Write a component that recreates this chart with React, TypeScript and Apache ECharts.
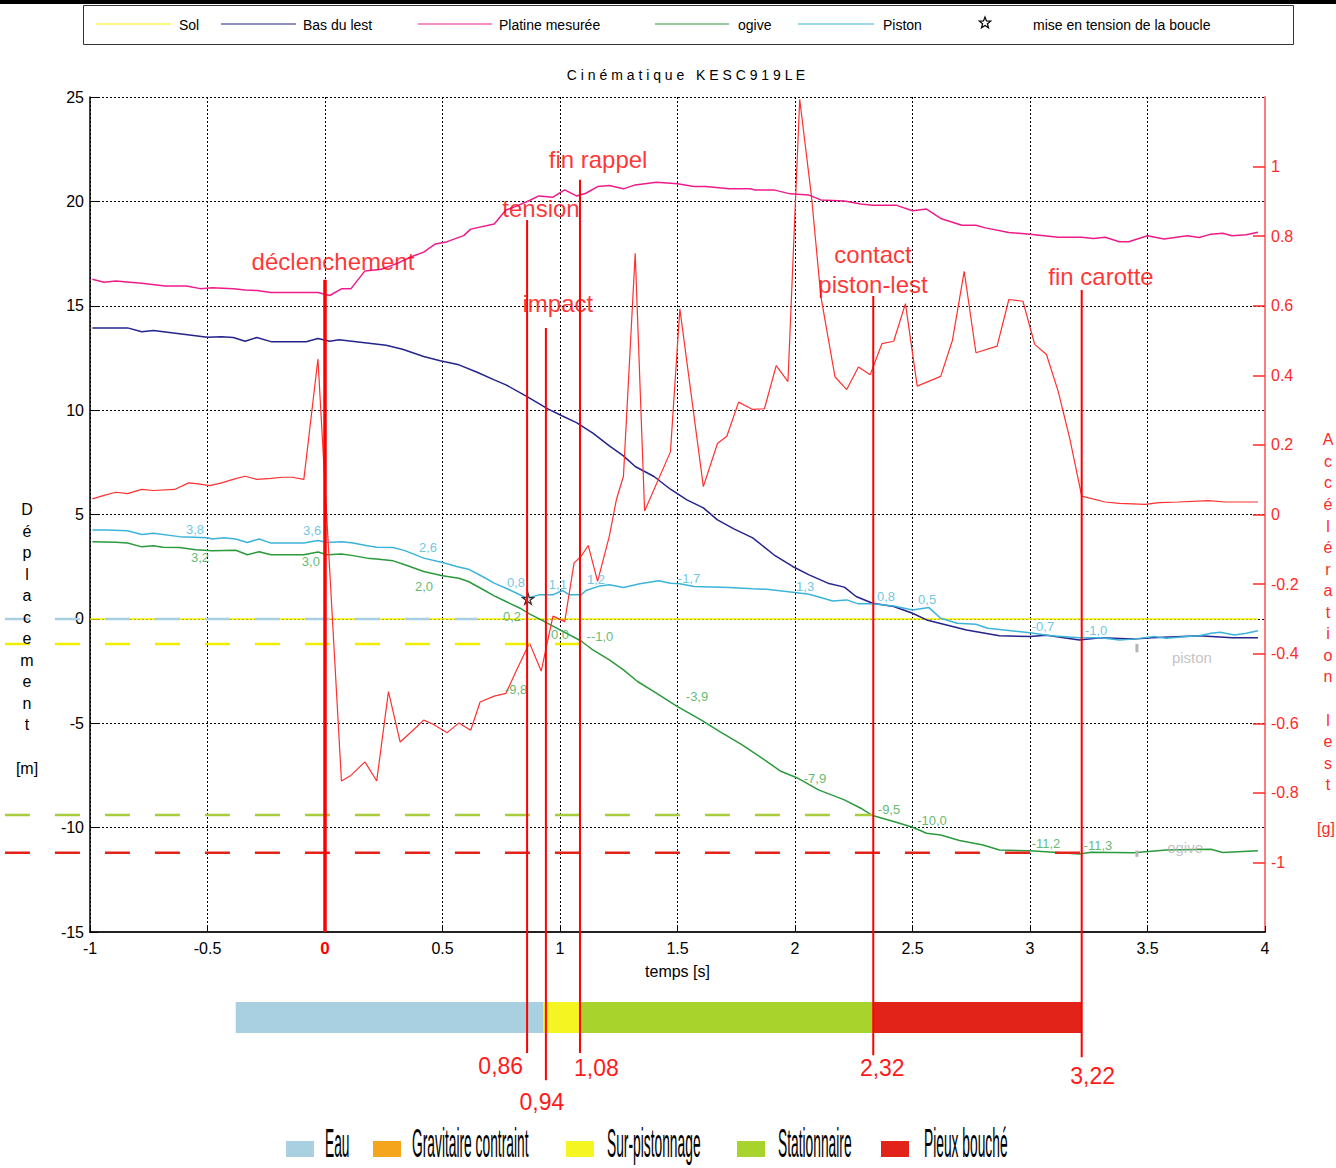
import React, { useEffect, useRef } from 'react';
import * as echarts from 'echarts';

const FONT = '"Liberation Sans", Arial, Helvetica, sans-serif';

// ---- data series (time [s], value) ----
const sol: number[][] = [[-1, 0], [3.97, 0]];

const basDuLest: number[][] = [
  [-0.99, 13.93], [-0.84, 13.94], [-0.78, 13.75], [-0.73, 13.81], [-0.5, 13.49], [-0.44, 13.52], [-0.39, 13.48],
  [-0.34, 13.3], [-0.29, 13.48], [-0.23, 13.28], [-0.08, 13.28], [-0.03, 13.43], [0.02, 13.3], [0.06, 13.37],
  [0.26, 13.11], [0.33, 12.92], [0.42, 12.57], [0.49, 12.37], [0.57, 12.17], [0.65, 11.8], [0.72, 11.45],
  [0.77, 11.21], [0.86, 10.65], [0.95, 10.05], [1.01, 9.72], [1.07, 9.4], [1.14, 8.9], [1.21, 8.29], [1.27, 7.81],
  [1.32, 7.3], [1.4, 6.82], [1.47, 6.21], [1.54, 5.7], [1.61, 5.32], [1.67, 4.74], [1.74, 4.31], [1.82, 3.88],
  [1.91, 3.07], [1.99, 2.51], [2.06, 2.11], [2.14, 1.71], [2.21, 1.52], [2.26, 1.07], [2.33, 0.75], [2.42, 0.59],
  [2.5, 0.27], [2.56, -0.05], [2.73, -0.53], [2.87, -0.81], [3.0, -0.85], [3.07, -0.78], [3.21, -1.01], [3.3, -0.9],
  [3.44, -0.97], [3.52, -0.9], [3.72, -0.81], [3.86, -0.9], [3.97, -0.9],
];

const platine: number[][] = [
  [-0.99, 16.27], [-0.94, 16.13], [-0.89, 16.19], [-0.83, 16.13], [-0.78, 16.08], [-0.68, 15.95], [-0.59, 15.95],
  [-0.53, 15.82], [-0.48, 15.86], [-0.39, 15.81], [-0.34, 15.75], [-0.29, 15.73], [-0.23, 15.63], [-0.03, 15.63],
  [0.02, 15.49], [0.07, 15.81], [0.11, 15.81], [0.17, 16.67], [0.24, 16.75], [0.31, 17.04], [0.37, 17.36],
  [0.42, 17.57], [0.47, 17.96], [0.52, 18.07], [0.59, 18.36], [0.62, 18.67], [0.72, 18.92], [0.77, 19.59],
  [0.81, 19.75], [0.87, 20.04], [0.91, 20.26], [0.97, 20.2], [1.02, 20.55], [1.07, 20.26], [1.11, 20.39],
  [1.16, 20.71], [1.21, 20.76], [1.27, 20.6], [1.32, 20.79], [1.41, 20.92], [1.5, 20.84], [1.57, 20.71],
  [1.62, 20.71], [1.72, 20.6], [1.81, 20.6], [1.83, 20.55], [1.91, 20.55], [1.98, 20.36], [2.06, 20.3],
  [2.11, 20.07], [2.21, 20.02], [2.28, 19.87], [2.33, 19.82], [2.43, 19.82], [2.5, 19.55], [2.56, 19.63],
  [2.62, 19.18], [2.71, 18.86], [2.77, 18.86], [2.81, 18.73], [2.91, 18.51], [3.0, 18.43], [3.12, 18.28],
  [3.22, 18.28], [3.27, 18.22], [3.32, 18.28], [3.38, 18.07], [3.42, 18.07], [3.5, 18.35], [3.57, 18.2],
  [3.67, 18.35], [3.72, 18.27], [3.77, 18.43], [3.82, 18.47], [3.86, 18.35], [3.92, 18.4], [3.97, 18.52],
];

const ogive: number[][] = [
  [-0.99, 3.7], [-0.89, 3.67], [-0.84, 3.63], [-0.78, 3.45], [-0.73, 3.5], [-0.69, 3.43], [-0.62, 3.42],
  [-0.55, 3.31], [-0.48, 3.26], [-0.38, 3.29], [-0.33, 3.07], [-0.28, 3.22], [-0.23, 3.07], [-0.09, 3.07],
  [-0.03, 3.2], [0.01, 3.07], [0.07, 3.11], [0.12, 3.03], [0.18, 2.91], [0.23, 2.86], [0.29, 2.78], [0.34, 2.59],
  [0.42, 2.27], [0.5, 2.07], [0.57, 1.95], [0.61, 1.79], [0.67, 1.42], [0.72, 1.1], [0.77, 0.83], [0.83, 0.51],
  [0.87, 0.24], [0.92, -0.05], [0.96, -0.29], [1.0, -0.53], [1.09, -1.06], [1.14, -1.49], [1.21, -1.96],
  [1.27, -2.44], [1.33, -3.0], [1.41, -3.56], [1.5, -4.2], [1.6, -4.84], [1.68, -5.4], [1.77, -6.0],
  [1.85, -6.6], [1.94, -7.3], [2.01, -7.62], [2.1, -8.19], [2.21, -8.67], [2.28, -9.07], [2.33, -9.42],
  [2.42, -9.71], [2.5, -9.98], [2.56, -10.27], [2.62, -10.35], [2.7, -10.62], [2.8, -10.83], [2.87, -11.07],
  [3.0, -11.11], [3.1, -11.18], [3.21, -11.26], [3.26, -11.18], [3.44, -11.2], [3.58, -11.07], [3.77, -11.04],
  [3.82, -11.19], [3.97, -11.11],
];

const piston: number[][] = [
  [-0.99, 4.26], [-0.93, 4.26], [-0.84, 4.22], [-0.78, 4.04], [-0.73, 4.1], [-0.62, 3.94], [-0.5, 3.89],
  [-0.48, 3.83], [-0.43, 3.89], [-0.38, 3.83], [-0.33, 3.66], [-0.28, 3.83], [-0.23, 3.63], [-0.09, 3.63],
  [-0.03, 3.75], [0.01, 3.66], [0.07, 3.7], [0.12, 3.63], [0.18, 3.5], [0.22, 3.43], [0.29, 3.42], [0.34, 3.27],
  [0.42, 2.91], [0.5, 2.7], [0.56, 2.51], [0.61, 2.38], [0.67, 2.03], [0.72, 1.71], [0.78, 1.42], [0.86, 0.99],
  [0.91, 1.15], [0.97, 1.15], [1.01, 1.36], [1.04, 1.15], [1.09, 1.15], [1.11, 1.36], [1.17, 1.58], [1.21, 1.63],
  [1.27, 1.5], [1.34, 1.68], [1.42, 1.83], [1.47, 1.71], [1.51, 1.68], [1.57, 1.55], [1.72, 1.5], [1.82, 1.44],
  [1.88, 1.42], [1.99, 1.28], [2.06, 1.18], [2.12, 0.99], [2.16, 0.86], [2.22, 0.91], [2.27, 0.72], [2.33, 0.72],
  [2.42, 0.62], [2.5, 0.43], [2.57, 0.54], [2.62, 0.03], [2.69, -0.21], [2.77, -0.26], [2.82, -0.45], [3.0, -0.66],
  [3.09, -0.81], [3.21, -0.9], [3.3, -0.9], [3.38, -1.01], [3.44, -0.97], [3.53, -0.85], [3.58, -0.93],
  [3.67, -0.85], [3.72, -0.81], [3.77, -0.69], [3.81, -0.64], [3.87, -0.77], [3.92, -0.69], [3.97, -0.57],
];

// acceleration of the weight [g] (right axis)
const acceleration: number[][] = [
  [-0.99, 0.045], [-0.94, 0.055], [-0.89, 0.064], [-0.84, 0.06], [-0.78, 0.072], [-0.73, 0.069], [-0.64, 0.072],
  [-0.58, 0.091], [-0.54, 0.088], [-0.49, 0.083], [-0.44, 0.091], [-0.38, 0.103], [-0.34, 0.11], [-0.29, 0.101],
  [-0.23, 0.104], [-0.18, 0.107], [-0.14, 0.107], [-0.09, 0.101], [-0.03, 0.447], [0.07, -0.766], [0.11, -0.75],
  [0.17, -0.711], [0.22, -0.766], [0.27, -0.509], [0.32, -0.654], [0.37, -0.623], [0.42, -0.591], [0.46, -0.603],
  [0.52, -0.627], [0.57, -0.599], [0.62, -0.62], [0.66, -0.539], [0.72, -0.522], [0.77, -0.514], [0.81, -0.455],
  [0.87, -0.369], [0.92, -0.45], [0.97, -0.292], [1.02, -0.308], [1.06, -0.139], [1.09, -0.12], [1.12, -0.089],
  [1.16, -0.192], [1.21, -0.062], [1.24, 0.043], [1.27, 0.11], [1.32, 0.751], [1.36, 0.01], [1.47, 0.18],
  [1.51, 0.591], [1.61, 0.08], [1.67, 0.204], [1.71, 0.225], [1.76, 0.323], [1.82, 0.302], [1.87, 0.304],
  [1.92, 0.428], [1.97, 0.382], [2.02, 1.193], [2.07, 0.915], [2.11, 0.627], [2.17, 0.396], [2.22, 0.359],
  [2.27, 0.424], [2.32, 0.402], [2.37, 0.491], [2.42, 0.498], [2.47, 0.606], [2.52, 0.369], [2.62, 0.397],
  [2.67, 0.501], [2.72, 0.699], [2.77, 0.465], [2.86, 0.484], [2.91, 0.618], [2.97, 0.613], [3.02, 0.489],
  [3.07, 0.46], [3.12, 0.354], [3.17, 0.216], [3.22, 0.053], [3.32, 0.036], [3.38, 0.032], [3.49, 0.029],
  [3.55, 0.034], [3.63, 0.036], [3.76, 0.04], [3.83, 0.036], [3.97, 0.036],
];

const boucleTension: number[][] = [[0.864, 0.96]];

// value labels along the piston and ogive curves: [text, t, position]
const pistonLabels: [string, number, number][] = [
  ['3,8', -0.553, 4.26], ['3,6', -0.055, 4.22], ['2,6', 0.438, 3.4], ['0,8', 0.813, 1.72], ['1,1', 0.991, 1.63],
  ['1,2', 1.153, 1.87], ['-1,7', 1.549, 1.92], ['1,3', 2.043, 1.53], ['0,8', 2.387, 1.05], ['0,5', 2.562, 0.91],
  ['-0,7', 3.055, -0.38], ['-1,0', 3.281, -0.57],
];
const ogiveLabels: [string, number, number][] = [
  ['3,2', -0.532, 2.92], ['3,0', -0.06, 2.73], ['2,0', 0.421, 1.53], ['0,2', 0.796, 0.1], ['0,0', 1.0, -0.77],
  ['--1,0', 1.17, -0.86], ['-9,8', 0.813, -3.4], ['-3,9', 1.583, -3.74], ['-7,9', 2.085, -7.66],
  ['-9,5', 2.4, -9.15], ['-10,0', 2.583, -9.68], ['-11,2', 3.068, -10.78], ['-11,3', 3.289, -10.87],
];
const greyLabels: [string, number, number][] = [['piston', 3.689, -1.87], ['ogive', 3.66, -10.97]];
const greyMarks: number[][] = [[3.455, -1.2, -1.6], [3.455, -11.1, -11.4]];

// events
const eventNames = ['déclenchement', 'tension', 'impact', 'fin rappel', 'contact\npiston-lest', 'fin carotte'];
const eventTimes = [0, 0.86, 0.94, 1.085, 2.333, 3.22];
const eventTops = [16.24, 19.11, 13.94, 21.03, 15.47, 15.76];
const eventBottoms = [-15, -20.8, -22.1, -20.8, -20.9, -21.0];
const eventLabelPos = [[0.034, 17.1], [0.919, 19.64], [0.991, 15.09], [1.162, 21.99], [2.332, 16.72], [3.302, 16.38]];
const eventTimeTexts = ['', '0,86', '0,94', '1,08', '2,32', '3,22'];

// horizontal reference levels (dashed)
const levelValues = [0, -1.2, -9.4, -11.2];
const levelEnds = [0.65, 1.085, 2.333, 3.22];
const levelColors = ['#a9cfe2', '#f2ee00', '#a8cc3c', '#e2231a'];

// phases
const phaseNames = ['Eau', 'Gravitaire contraint', 'Sur-pistonnage', 'Stationnaire', 'Pieux bouché'];
const phaseColors = ['#a9d0e0', '#f5a51c', '#f5f522', '#a8d22c', '#e2231a'];
const phaseStarts = [-0.38, NaN, 0.93, 1.085, 2.333];
const phaseEnds = [0.93, NaN, 1.085, 2.333, 3.22];

const C_SOL = '#f5f200';
const C_LEST = '#25238c';
const C_PLATINE = '#ee1c8a';
const C_OGIVE = '#2a9a3c';
const C_PISTON = '#3cb4da';
const C_ACC = '#ff3030';
const RED = '#ff0000';

const STAR = 'path://M50,0L61,35L98,35L68,57L79,91L50,70L21,91L32,57L2,35L39,35Z';

function starPoints(cx: number, cy: number, r: number): number[][] {
  const pts: number[][] = [];
  for (let i = 0; i < 10; i++) {
    const rr = i % 2 === 0 ? r : r * 0.42;
    const a = -Math.PI / 2 + (i * Math.PI) / 5;
    pts.push([cx + rr * Math.cos(a), cy + rr * Math.sin(a)]);
  }
  return pts;
}

function labelSeries(items: [string, number, number][], color: string, size: number, extra: any = {}) {
  return {
    type: 'scatter',
    silent: true,
    symbolSize: 1,
    itemStyle: { color: 'transparent' },
    data: items.map(([txt, t, v]) => ({ name: txt, value: [t, v] })),
    label: { show: true, position: 'inside', formatter: '{b}', color, fontSize: size, fontFamily: FONT, ...extra },
    z: 6,
  };
}

export default function App() {
  const ref = useRef<HTMLDivElement>(null);

  useEffect(() => {
    document.body.style.margin = '0';
    if (!ref.current) return;
    const chart = echarts.init(ref.current, null, { renderer: 'svg' });
    const lineS = (name: string, data: number[][], color: string, width = 1.5, yAxisIndex = 0) => ({
      name, type: 'line', data, yAxisIndex, symbol: 'none', showSymbol: false, silent: true,
      lineStyle: { color, width }, itemStyle: { color }, z: 3,
    });
    const accTicks = [-1, -0.8, -0.6, -0.4, -0.2, 0, 0.2, 0.4, 0.6, 0.8, 1];
    const option: any = {
      animation: false,
      backgroundColor: '#ffffff',
      textStyle: { fontFamily: FONT },
      grid: { left: 90, right: 71, top: 97, bottom: 236, containLabel: false },
      xAxis: {
        type: 'value', min: -1, max: 4, interval: 0.5,
        axisLine: { onZero: false, lineStyle: { color: '#222', width: 2 } },
        axisTick: { inside: true, length: 6, lineStyle: { color: '#000' } },
        axisLabel: {
          fontSize: 16, color: '#000', margin: 8, fontFamily: FONT,
          formatter: (v: number) => (v === 0 ? '{r|0}' : String(v)),
          rich: { r: { color: RED, fontWeight: 'bold', fontSize: 17, fontFamily: FONT } },
        },
        splitLine: { show: true, lineStyle: { color: '#000', type: [2, 2], width: 1 } },
        name: 'temps [s]', nameLocation: 'middle', nameGap: 31,
        nameTextStyle: { fontSize: 16, color: '#000', fontFamily: FONT },
      },
      yAxis: [
        {
          type: 'value', min: -15, max: 25, interval: 5, position: 'left',
          axisLine: { show: true, onZero: false, lineStyle: { color: '#000', width: 1.5 } },
          axisTick: { show: true, inside: true, length: 8, lineStyle: { color: '#000' } },
          axisLabel: { fontSize: 16, color: '#000', margin: 6, fontFamily: FONT },
          splitLine: { show: true, lineStyle: { color: '#000', type: [2, 2], width: 1 } },
        },
        {
          type: 'value', min: -1.2, max: 1.2, interval: 0.2, position: 'right',
          axisLine: { show: true, onZero: false, lineStyle: { color: '#ff7c7c', width: 2 } },
          axisTick: { show: true, inside: true, length: 12, customValues: accTicks, lineStyle: { color: '#ff2a2a', width: 1.5 } },
          axisLabel: {
            fontSize: 16, color: '#ff2a2a', margin: 6, fontFamily: FONT, customValues: accTicks,
            formatter: (v: number) => String(Math.round(v * 10) / 10),
          },
          splitLine: { show: false },
        },
      ],
      series: [
        lineS('Sol', sol, C_SOL, 1.5),
        lineS('Bas du lest', basDuLest, C_LEST, 1.5),
        lineS('Platine mesurée', platine, C_PLATINE, 1.5),
        lineS('ogive', ogive, C_OGIVE, 1.5),
        lineS('Piston', piston, C_PISTON, 1.5),
        lineS('Accélération lest', acceleration, C_ACC, 1.2, 1),
        {
          name: 'mise en tension de la boucle', type: 'scatter', data: boucleTension, symbol: STAR, symbolSize: 11,
          itemStyle: { color: '#ffffff', borderColor: '#000', borderWidth: 1.3 }, z: 8, silent: true,
        },
        labelSeries(pistonLabels, '#4ab8dc', 13),
        labelSeries(ogiveLabels, '#3aa84a', 13),
        labelSeries(greyLabels, '#b4b4b4', 15),
        labelSeries(
          eventNames.map((n, i) => [n, eventLabelPos[i][0], eventLabelPos[i][1]] as [string, number, number]),
          RED, 24, { lineHeight: 30 }
        ),
      ],
    };
    chart.setOption(option);

    const px = (t: number) => chart.convertToPixel({ xAxisIndex: 0 } as any, t) as number;
    const py = (v: number) => chart.convertToPixel({ yAxisIndex: 0 } as any, v) as number;

    const els: any[] = [];
    // top black band + legend box
    els.push({ type: 'rect', shape: { x: 0, y: 0, width: 1336, height: 4 }, style: { fill: '#000' }, z: 100 });
    els.push({ type: 'rect', shape: { x: 83.5, y: 5.5, width: 1210, height: 39 }, style: { fill: '#fff', stroke: '#333', lineWidth: 1 }, z: 100 });
    const legendItems = [
      { name: 'Sol', color: C_SOL, x1: 96, x2: 171, tx: 179 },
      { name: 'Bas du lest', color: C_LEST, x1: 221, x2: 296, tx: 303 },
      { name: 'Platine mesurée', color: C_PLATINE, x1: 418, x2: 492, tx: 499 },
      { name: 'ogive', color: C_OGIVE, x1: 655, x2: 729, tx: 738 },
      { name: 'Piston', color: C_PISTON, x1: 798, x2: 874, tx: 883 },
    ];
    legendItems.forEach((it) => {
      els.push({ type: 'line', shape: { x1: it.x1, y1: 24, x2: it.x2, y2: 24 }, style: { stroke: it.color, lineWidth: 1.2 }, z: 101 });
      els.push({ type: 'text', x: it.tx, y: 25, style: { text: it.name, fontSize: 14, fontFamily: FONT, fill: '#000', textAlign: 'left', textVerticalAlign: 'middle' }, z: 101 });
    });
    els.push({ type: 'polygon', shape: { points: starPoints(985, 23, 6) }, style: { fill: '#fff', stroke: '#000', lineWidth: 1.2 }, z: 101 });
    els.push({ type: 'text', x: 1033, y: 25, style: { text: 'mise en tension de la boucle', fontSize: 14, fontFamily: FONT, fill: '#000', textAlign: 'left', textVerticalAlign: 'middle' }, z: 101 });

    // title
    els.push({ type: 'text', x: 686, y: 75, style: { text: 'C i n é m a t i q u e   K E S C 9 1 9 L E', fontSize: 14, fontFamily: FONT, fill: '#000', textAlign: 'center', textVerticalAlign: 'middle' }, z: 100 });

    // vertical axis names
    els.push({ type: 'text', x: 27, y: 499, style: { text: 'Déplacement'.split('').join('\n'), fontSize: 16, lineHeight: 21.5, fontFamily: FONT, fill: '#000', textAlign: 'center', textVerticalAlign: 'top' }, z: 100 });
    els.push({ type: 'text', x: 27, y: 768, style: { text: '[m]', fontSize: 16, fontFamily: FONT, fill: '#000', textAlign: 'center', textVerticalAlign: 'middle' }, z: 100 });
    els.push({ type: 'text', x: 1328, y: 429, style: { text: 'Accélération lest'.split('').join('\n'), fontSize: 16, lineHeight: 21.56, fontFamily: FONT, fill: '#ff2a2a', textAlign: 'center', textVerticalAlign: 'top' }, z: 100 });
    els.push({ type: 'text', x: 1326, y: 828, style: { text: '[g]', fontSize: 16, fontFamily: FONT, fill: '#ff2a2a', textAlign: 'center', textVerticalAlign: 'middle' }, z: 100 });

    // dashed reference levels (extend to the left of the axis)
    levelValues.forEach((v, i) => {
      els.push({
        type: 'line', shape: { x1: px(-1.362), y1: py(v), x2: px(levelEnds[i]), y2: py(v) },
        style: { stroke: levelColors[i], lineWidth: 2.5, lineDash: [25, 25] }, z: 50,
      });
    });

    // grey marks near the labels
    greyMarks.forEach(([t, v1, v2]) => {
      els.push({ type: 'line', shape: { x1: px(t), y1: py(v1), x2: px(t), y2: py(v2) }, style: { stroke: '#b4b4b4', lineWidth: 3 }, z: 50 });
    });

    // event lines
    eventTimes.forEach((t, i) => {
      els.push({
        type: 'line', shape: { x1: px(t), y1: py(eventTops[i]), x2: px(t), y2: py(eventBottoms[i]) },
        style: { stroke: RED, lineWidth: i === 0 ? 3.5 : 2 }, z: 60,
      });
    });

    // phase bar
    phaseNames.forEach((n, i) => {
      if (isNaN(phaseStarts[i])) return;
      const x0 = px(phaseStarts[i]);
      const x1 = px(phaseEnds[i]);
      els.push({ type: 'rect', shape: { x: x0, y: 1002, width: x1 - x0, height: 31 }, style: { fill: phaseColors[i] }, z: 40 });
    });

    // event time labels
    const tl = [
      null,
      { dx: -4, y: 1066, align: 'right' },
      { dx: -4, y: 1102, align: 'center' },
      { dx: -6, y: 1068, align: 'left' },
      { dx: 9, y: 1068, align: 'center' },
      { dx: 11, y: 1076, align: 'center' },
    ];
    eventTimes.forEach((t, i) => {
      const c = tl[i];
      if (!c || !eventTimeTexts[i]) return;
      els.push({ type: 'text', x: px(t) + c.dx, y: c.y, style: { text: eventTimeTexts[i], fontSize: 23, fontFamily: FONT, fill: '#ff1a1a', textAlign: c.align, textVerticalAlign: 'middle' }, z: 70 });
    });

    // phase legend
    const sqX = [286, 373, 566, 737, 881];
    const txX = [325, 412, 607, 778, 924];
    phaseNames.forEach((n, i) => {
      els.push({ type: 'rect', shape: { x: sqX[i], y: 1141, width: 28, height: 16 }, style: { fill: phaseColors[i] }, z: 70 });
      els.push({ type: 'text', x: txX[i], y: 1143, scaleX: 0.345, style: { text: n, fontSize: 40, fontFamily: FONT, fill: '#000', textAlign: 'left', textVerticalAlign: 'middle' }, z: 70 });
    });

    chart.setOption({ graphic: { elements: els } });

    return () => chart.dispose();
  }, []);

  return <div ref={ref} style={{ width: 1336, height: 1168 }} />;
}
